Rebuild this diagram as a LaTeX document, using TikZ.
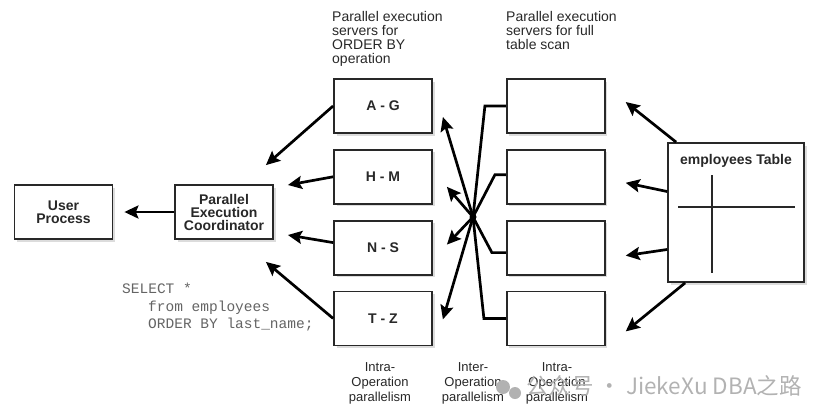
\documentclass[tikz,border=0pt]{standalone}
\usepackage{fontspec}
\setmainfont{Liberation Sans}
\setmonofont{Liberation Mono}
\newfontfamily\cjk{Noto Sans CJK SC}
\usetikzlibrary{arrows.meta,positioning,calc,shadows}
\definecolor{Ink}{RGB}{40,40,40}
\definecolor{Code}{RGB}{100,100,100}
\definecolor{Mark}{RGB}{178,178,178}

\begin{document}
\begin{tikzpicture}[x=1pt, y=-1pt,
    box/.style={draw=Ink, line width=1.8pt, fill=white, align=center, text=Ink,
      minimum width=98pt, minimum height=54pt, inner sep=2pt,
      font=\fontsize{14}{13}\selectfont\bfseries,
      drop shadow={shadow xshift=2.5pt, shadow yshift=-2.5pt, fill=black!30, opacity=.45}},
    note/.style={align=left, text=Ink, inner sep=0pt, font=\fontsize{14}{14}\selectfont},
    tag/.style={align=center, text=Ink, inner sep=0pt, font=\fontsize{13}{15}\selectfont},
    arr/.style={-{Stealth[length=14pt,width=13pt,inset=2.5pt]}, line width=2.7pt},
    link/.style={line width=2.7pt, line join=miter},
    grid/.style={draw=Ink, line width=1.4pt}
  ]
  \useasboundingbox (0,0) rectangle (831,416);

  % coordinator side
  \node[box] (user) at (63.5,212) {User\\Process};
  \node[box] (coord) at (224,212) {Parallel\\Execution\\Coordinator};

  % ORDER BY servers
  \node[box] (ag) at (383,106) {A - G};
  \node[box, below=15pt of ag] (hm) {H - M};
  \node[box, below=15pt of hm] (ns) {N - S};
  \node[box, below=15pt of ns] (tz) {T - Z};

  % scan servers
  \node[box, right=73pt of ag] (s1) {};
  \node[box, below=15pt of s1] (s2) {};
  \node[box, below=15pt of s2] (s3) {};
  \node[box, below=15pt of s3] (s4) {};

  % table
  \node[box, minimum width=136pt, minimum height=139pt] (table) at (736,212.5) {};
  \node[text=Ink, font=\fontsize{14}{14}\selectfont\bfseries, below=9pt of table.north] (tabname) {employees Table};
  \draw[grid] ($(table.north west)+(11,65)$) -- ($(table.north east)+(-10,65)$);
  \draw[grid] ($(table.north west)+(45,33)$) -- ($(table.north west)+(45,131)$);

  % captions
  \node[note, anchor=north west] (lblsort) at (332,11) {Parallel execution\\servers for\\ORDER BY\\operation};
  \node[note, anchor=north west] (lblscan) at (506,11) {Parallel execution\\servers for full\\table scan};
  \node[tag] (intra1) at (380,383) {Intra-\\Operation\\parallelism};
  \node[tag] (inter) at (473,383) {Inter-\\Operation\\parallelism};
  \node[tag] (intra2) at (557,383) {Intra-\\Operation\\parallelism};
  \node[align=left, anchor=north west, inner sep=0pt, text=Code,
    font=\ttfamily\fontsize{14.5}{17.5}\selectfont] (query) at (122,283)
    {SELECT *\\\hspace*{26pt}from employees\\\hspace*{26pt}ORDER BY last\_name;};

  % free arrow ends
  \coordinate (c1) at ($(coord.north east)+(-8,-19)$);
  \coordinate (c2) at ($(coord.east)+(14,-27)$);
  \coordinate (c3) at ($(coord.east)+(14,23)$);
  \coordinate (c4) at ($(coord.south east)+(-8,22)$);
  \coordinate (h1) at ($(ag.east)+(10,11)$);
  \coordinate (h2) at ($(hm.east)+(14,10)$);
  \coordinate (h3) at ($(ns.east)+(14,-3)$);
  \coordinate (h4) at ($(tz.east)+(10,1)$);
  \coordinate (e1) at ($(s1.east)+(20,-4)$);
  \coordinate (e2) at ($(s2.east)+(20,6)$);
  \coordinate (e3) at ($(s3.east)+(20,8)$);
  \coordinate (e4) at ($(s4.east)+(20,13)$);
  \coordinate (hub) at (473,217);

  \draw[arr, shorten >=11pt] (coord) -- (user);
  \draw[arr] (ag.west) -- (c1);
  \draw[arr] (hm.west) -- (c2);
  \draw[arr] ([yshift=5pt]ns.west) -- (c3);
  \draw[arr] (tz.west) -- (c4);

  \draw[link] (s1.west) -- ++(-21,0) -- (hub);
  \draw[link] ([yshift=2pt]s2.west) -- ++(-11,0) -- (hub);
  \draw[link] ([yshift=-5pt]s3.west) -- ++(-14,0) -- (hub);
  \draw[link] (s4.west) -- ++(-22,0) -- (hub);
  \fill (hub) circle (3.5pt);
  \draw[arr] (hub) -- (h1);
  \draw[arr] (hub) -- (h2);
  \draw[arr] (hub) -- (h3);
  \draw[arr] (hub) -- (h4);

  \draw[arr] ([xshift=9pt]table.north west) -- (e1);
  \draw[arr] ([yshift=21pt]table.west) -- (e2);
  \draw[arr] ([yshift=-37pt]table.west) -- (e3);
  \draw[arr] ([xshift=18pt]table.south west) -- (e4);

  % watermark
  \fill[Mark] (503,387) circle (7pt);
  \fill[Mark] (515,393) circle (6pt);
  \node[text=Mark, anchor=west, inner sep=0pt, font=\cjk\fontsize{22.5}{22.5}\selectfont] (mark) at (526,386) {公众号 · JiekeXu DBA之路};
\end{tikzpicture}
\end{document}
